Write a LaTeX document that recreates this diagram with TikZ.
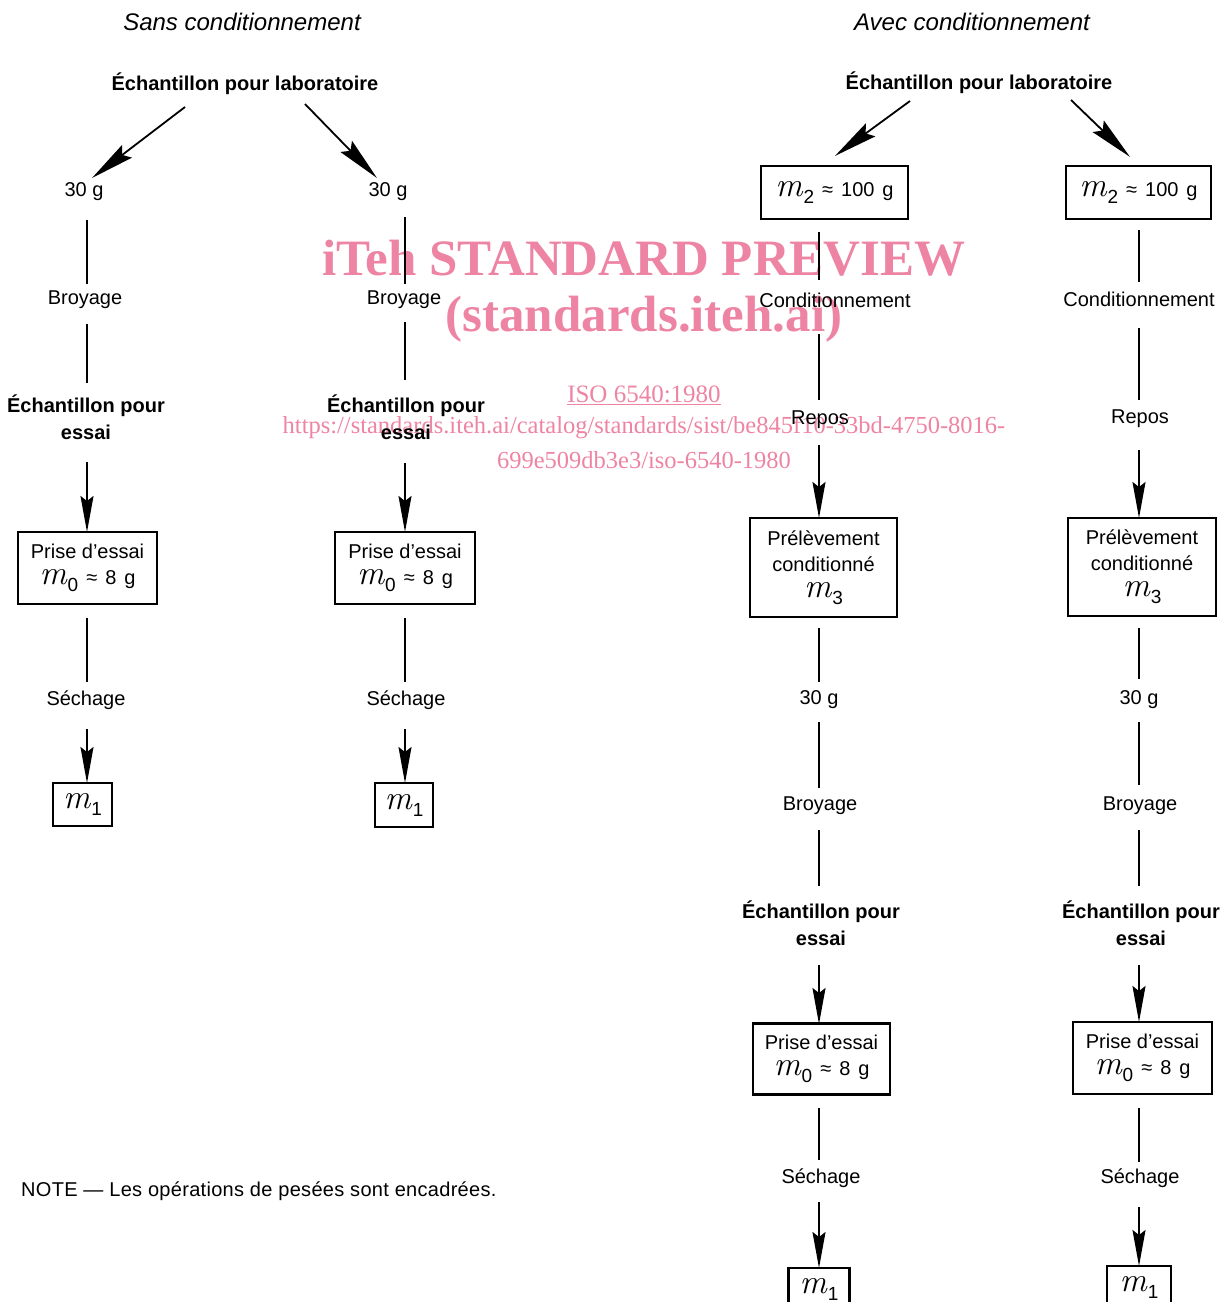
\documentclass[tikz,border=0pt]{standalone}
\usepackage{fontspec}
\newfontfamily\hv{Liberation Sans}
\newfontfamily\hvs{Liberation Sans}[LetterSpace=1.5]
\newfontfamily\wmfont{Liberation Serif}
\usetikzlibrary{arrows.meta,calc}
\definecolor{wm}{RGB}{238,132,164}
\newcommand\mvar[1]{{\rmfamily\itshape\fontsize{34}{34}\selectfont m}\kern1pt\raisebox{-7pt}{\fontsize{19}{19}\selectfont #1}}
\newcommand\gap{\hspace{8pt}}
\begin{document}
\begin{tikzpicture}[x=1pt,y=-1pt,
  lbl/.style={font=\hv\fontsize{20}{27}\selectfont, inner sep=0pt, align=center, yshift=-2pt},
  blbl/.style={font=\hv\fontsize{20}{27}\selectfont\bfseries, inner sep=0pt, align=center},
  ttl/.style={font=\hv\fontsize{24}{28}\selectfont\itshape, inner sep=0pt},
  wbox/.style={draw, line width=2.2pt, inner sep=0pt, align=center, font=\hv\fontsize{20}{26}\selectfont},
  ln/.style={line width=1.8pt},
  ar/.style={line width=1.8pt, -{Stealth[length=36pt,width=13pt,inset=5pt]}},
  dar/.style={line width=1.8pt, -{Stealth[length=44pt,width=16pt,inset=6pt]}},
  wmk/.style={text=wm, inner sep=0pt}
]
\useasboundingbox (0,0) rectangle (1224,1302);

% watermark
\node[wmk, font=\wmfont\bfseries\fontsize{51}{51}\selectfont] (wm1) at (644,258) {iTeh STANDARD PREVIEW};
\node[wmk, font=\wmfont\bfseries\fontsize{51}{51}\selectfont] (wm2) at (644,319) {(standards.iteh.ai)};
\node[wmk, font=\wmfont\fontsize{25}{25}\selectfont] (wm3) at (644,395) {\underline{ISO 6540:1980}};
\node[wmk, font=\wmfont\fontsize{24.5}{25}\selectfont] (wm4) at (644,428) {https://standards.iteh.ai/catalog/standards/sist/be845f10-33bd-4750-8016-};
\node[wmk, font=\wmfont\fontsize{24.5}{25}\selectfont] (wm5) at (644,460) {699e509db3e3/iso-6540-1980};

% titles
\node[ttl] (tt1) at (242,22) {Sans conditionnement};
\node[ttl] (tt2) at (972,22) {Avec conditionnement};
\node[blbl] (lab1) at (245,84) {Échantillon pour laboratoire};
\node[blbl] (lab2) at (979,83) {Échantillon pour laboratoire};

% column coordinates
\coordinate (X1) at (87,0);
\coordinate (X2) at (405,0);
\coordinate (X3) at (819,0);
\coordinate (X4) at (1139,0);

% column 1
\node[lbl] (t1) at (84,190) {30 g};
\node[lbl] (b1) at (85,298) {Broyage};
\node[blbl] (e1) at (86,417) {Échantillon pour\\essai};
\node[wbox, minimum width=139pt, minimum height=72pt] (p1) at (87.5,568) {Prise d’essai\\\mvar{0}\gap≈\gap8\gap g};
\node[lbl] (s1) at (86,698) {Séchage};
\node[wbox, minimum width=59pt, minimum height=43pt] (r1) at (82.5,804.5) {\mvar{1}};

% column 2
\node[lbl] (t2) at (388,190) {30 g};
\node[lbl] (b2) at (404,298) {Broyage};
\node[blbl] (e2) at (406,417) {Échantillon pour\\essai};
\node[wbox, minimum width=140pt, minimum height=72pt] (p2) at (405,568) {Prise d’essai\\\mvar{0}\gap≈\gap8\gap g};
\node[lbl] (s2) at (406,698) {Séchage};
\node[wbox, minimum width=58pt, minimum height=44pt] (r2) at (404,805) {\mvar{1}};

% column 3
\node[wbox, minimum width=147pt, minimum height=53pt] (m2a) at (834.5,192.5) {\mvar{2}\gap≈\gap100\gap g};
\node[lbl] (c3) at (835,298) {Conditionnement};
\node[lbl] (rp3) at (820,418) {Repos};
\node[wbox, minimum width=147pt, minimum height=99pt] (pr3) at (823.5,567.5) {Prélèvement\\conditionné\\\mvar{3}};
\node[lbl] (g3) at (819,698) {30 g};
\node[lbl] (br3) at (820,804) {Broyage};
\node[blbl] (e3) at (821,923.5) {Échantillon pour\\essai};
\node[wbox, minimum width=137pt, minimum height=71pt] (pe3) at (821.5,1059) {Prise d’essai\\\mvar{0}\gap≈\gap8\gap g};
\node[lbl] (se3) at (821,1176) {Séchage};
\node[wbox, minimum width=61pt, minimum height=43pt] (m13) at (819,1289.5) {\mvar{1}};

% column 4
\node[wbox, minimum width=145pt, minimum height=53pt] (m2b) at (1138.5,192.5) {\mvar{2}\gap≈\gap100\gap g};
\node[lbl] (c4) at (1139,297) {Conditionnement};
\node[lbl] (rp4) at (1140,417) {Repos};
\node[wbox, minimum width=148pt, minimum height=98pt] (pr4) at (1142,567) {Prélèvement\\conditionné\\\mvar{3}};
\node[lbl] (g4) at (1139,698) {30 g};
\node[lbl] (br4) at (1140,804) {Broyage};
\node[blbl] (e4) at (1141,923.5) {Échantillon pour\\essai};
\node[wbox, minimum width=139pt, minimum height=72pt] (pe4) at (1142.5,1058) {Prise d’essai\\\mvar{0}\gap≈\gap8\gap g};
\node[lbl] (se4) at (1140,1176) {Séchage};
\node[wbox, minimum width=64pt, minimum height=43pt] (m14) at (1139,1287.5) {\mvar{1}};

% note
\node[lbl, font=\hvs\fontsize{20}{27}\selectfont, anchor=west] (note) at (21,1189) {NOTE — Les opérations de pesées sont encadrées.};

% diagonal arrows
\draw[dar] ($(lab1)+(-60,23)$) -- ($(t1)+(8,-14)$);
\draw[dar] ($(lab1)+(60,20)$) -- ($(t2)+(-11,-14)$);
\draw[dar] ($(lab2)+(-69,18)$) -- ($(m2a.north)+(0.5,-9)$);
\draw[dar] ($(lab2)+(92,17)$) -- ($(m2b.north)+(-8.5,-8)$);

% column 1 connectors
\draw[ln, shorten <=28pt, shorten >=16pt] (t1.center -| X1) -- (b1.center -| X1);
\draw[ln, shorten <=24pt, shorten >=34pt] (b1.center -| X1) -- (e1.center -| X1);
\draw[ar, shorten <=45pt, shorten >=36pt] (e1.center -| X1) -- (p1.center -| X1);
\draw[ln, shorten <=50pt, shorten >=18pt] (p1.center -| X1) -- (s1.center -| X1);
\draw[ar, shorten <=29pt, shorten >=21.5pt] (s1.center -| X1) -- (r1.center -| X1);

% column 2 connectors
\draw[ln, shorten <=25pt, shorten >=16pt] (t2.center -| X2) -- (b2.center -| X2);
\draw[ln, shorten <=22pt, shorten >=37pt] (b2.center -| X2) -- (e2.center -| X2);
\draw[ar, shorten <=46pt, shorten >=36pt] (e2.center -| X2) -- (p2.center -| X2);
\draw[ln, shorten <=50pt, shorten >=18pt] (p2.center -| X2) -- (s2.center -| X2);
\draw[ar, shorten <=29pt, shorten >=22pt] (s2.center -| X2) -- (r2.center -| X2);

% column 3 connectors
\draw[ln, shorten <=39.5pt, shorten >=20pt] (m2a.center -| X3) -- (c3.center -| X3);
\draw[ln, shorten <=34pt, shorten >=20pt] (c3.center -| X3) -- (rp3.center -| X3);
\draw[ar, shorten <=25pt, shorten >=49.5pt] (rp3.center -| X3) -- (pr3.center -| X3);
\draw[ln, shorten <=60.5pt, shorten >=18pt] (pr3.center -| X3) -- (g3.center -| X3);
\draw[ln, shorten <=22pt, shorten >=18pt] (g3.center -| X3) -- (br3.center -| X3);
\draw[ln, shorten <=24pt, shorten >=37.5pt] (br3.center -| X3) -- (e3.center -| X3);
\draw[ar, shorten <=41.5pt, shorten >=35pt] (e3.center -| X3) -- (pe3.center -| X3);
\draw[ln, shorten <=49pt, shorten >=18pt] (pe3.center -| X3) -- (se3.center -| X3);
\draw[ar, shorten <=24pt, shorten >=21.5pt] (se3.center -| X3) -- (m13.center -| X3);

% column 4 connectors
\draw[ln, shorten <=37.5pt, shorten >=17pt] (m2b.center -| X4) -- (c4.center -| X4);
\draw[ln, shorten <=29pt, shorten >=19pt] (c4.center -| X4) -- (rp4.center -| X4);
\draw[ar, shorten <=31pt, shorten >=49pt] (rp4.center -| X4) -- (pr4.center -| X4);
\draw[ln, shorten <=61pt, shorten >=21pt] (pr4.center -| X4) -- (g4.center -| X4);
\draw[ln, shorten <=22pt, shorten >=21pt] (g4.center -| X4) -- (br4.center -| X4);
\draw[ln, shorten <=24pt, shorten >=37.5pt] (br4.center -| X4) -- (e4.center -| X4);
\draw[ar, shorten <=41.5pt, shorten >=36pt] (e4.center -| X4) -- (pe4.center -| X4);
\draw[ln, shorten <=50pt, shorten >=16pt] (pe4.center -| X4) -- (se4.center -| X4);
\draw[ar, shorten <=29pt, shorten >=21.5pt] (se4.center -| X4) -- (m14.center -| X4);
\end{tikzpicture}
\end{document}
